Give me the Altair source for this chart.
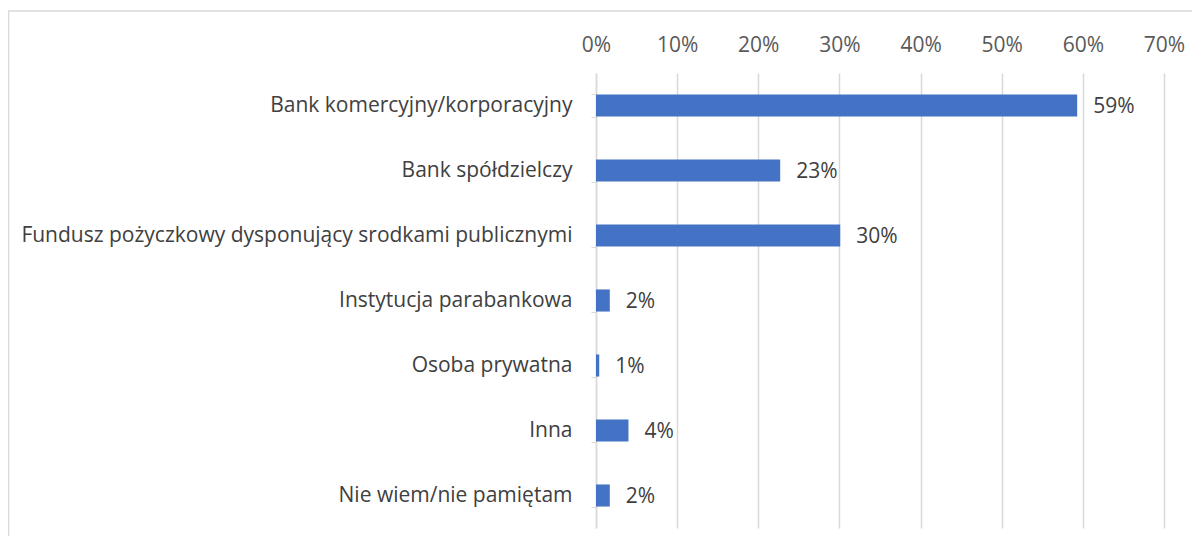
import altair as alt
import pandas as pd

categories = [
    "Bank komercyjny/korporacyjny",
    "Bank spółdzielczy",
    "Fundusz pożyczkowy dysponujący srodkami publicznymi",
    "Instytucja parabankowa",
    "Osoba prywatna",
    "Inna",
    "Nie wiem/nie pamiętam",
]
values = [59.3, 22.7, 30.1, 1.7, 0.4, 4.0, 1.7]
labels = ["59%", "23%", "30%", "2%", "1%", "4%", "2%"]
x_ticks = [0, 10, 20, 30, 40, 50, 60, 70]

df = pd.DataFrame({"cat": categories, "val": values, "lab": labels})

FONT = "Open Sans"
FS = 21

y_enc = alt.Y(
    "cat:N",
    sort=categories,
    title=None,
    scale=alt.Scale(paddingInner=0.66, paddingOuter=0.33),
    axis=alt.Axis(
        labelFontSize=FS,
        labelColor="#404040",
        labelFont=FONT,
        labelPadding=19,
        tickSize=5,
        tickBand="extent",
        tickColor="#d9d9d9",
        domainColor="#d9d9d9",
        domainWidth=1.5,
        labelLimit=600,
    ),
)
x_enc = alt.X(
    "val:Q",
    title=None,
    scale=alt.Scale(domain=[0, 70], nice=False),
    axis=alt.Axis(
        orient="top",
        values=x_ticks,
        labelExpr="datum.value + '%'",
        labelFlush=False,
        labelOverlap=False,
        domain=False,
        ticks=False,
        grid=True,
        gridColor="#d9d9d9",
        gridWidth=1.5,
        labelFontSize=FS,
        labelColor="#595959",
        labelFont=FONT,
        labelPadding=18,
    ),
)

bars = alt.Chart(df).mark_bar(color="#4472C4").encode(x=x_enc, y=y_enc)
text = alt.Chart(df).mark_text(
    align="left", baseline="middle", dx=16, dy=1, fontSize=FS, color="#404040", font=FONT
).encode(x="val:Q", y=alt.Y("cat:N", sort=categories), text="lab:N")

border = alt.Chart(pd.DataFrame({"a": [0]})).mark_rect(
    fill=None, stroke="#d9d9d9", strokeWidth=1.5, clip=False
).encode(
    x=alt.value(-587.5), x2=alt.value(640), y=alt.value(-62), y2=alt.value(520)
)

chart = (
    alt.layer(bars, text, border)
    .properties(
        width=568,
        height=455,
        autosize=alt.AutoSizeParams(type="none"),
        padding={"left": 588, "top": 65, "right": 28, "bottom": 8},
        background="white",
    )
    .configure_view(stroke=None)
)

chart.save("out.html", embed_options={"renderer": "svg", "actions": False})
